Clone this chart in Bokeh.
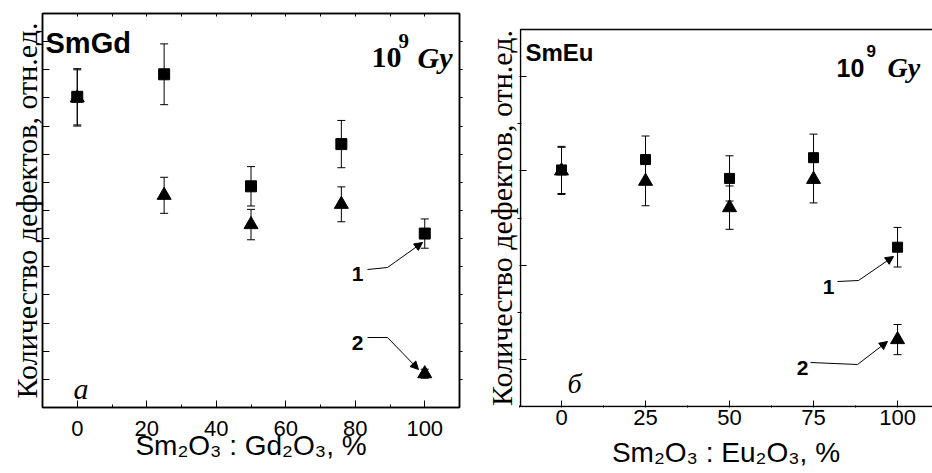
import numpy as np
from bokeh.plotting import figure
from bokeh.models import (Range1d, LinearAxis, FixedTicker, Whisker, ColumnDataSource,
                          Label, Arrow, NormalHead, TeeHead, BoxAnnotation)
from bokeh.layouts import row
from bokeh.embed import file_html
from bokeh.resources import INLINE

# ---------------- data ----------------
gd_x = [0, 25, 50, 76, 100]
gd_sq = [5.02, 5.42, 3.43, 4.18, 2.59]
gd_sq_err = [0.50, 0.54, 0.35, 0.42, 0.26]
gd_tri = [5.00, 3.27, 2.75, 3.11, 0.10]
gd_tri_err = [0.50, 0.32, 0.27, 0.31, 0.08]

eu_x = [0, 25, 50, 75, 100]
eu_sq = [2.01, 2.12, 1.92, 2.14, 1.19]
eu_sq_err = [0.25, 0.25, 0.24, 0.25, 0.21]
eu_tri = [2.00, 1.89, 1.61, 1.91, 0.21]
eu_tri_err = [0.25, 0.26, 0.23, 0.25, 0.16]

gd_xticks = [0, 20, 40, 60, 80, 100]
eu_xticks = [0, 25, 50, 75, 100]
ylabel = "Количество дефектов, отн.ед."
gd_xlabel = "Sm₂O₃ : Gd₂O₃, %"
eu_xlabel = "Sm₂O₃ : Eu₂O₃, %"

SANS = "Liberation Sans"
SERIF = "Liberation Serif"

H = 473
FT, FB = 13, 407     # frame top / bottom (window px), shared by both panels

# pixel -> data helpers (window coordinates)
def lx(px): return -10 + (px - 42) * 120 / 417
def ly(py): return 6.5 - (py - 13) * 7 / 394
def rx(px): return -12.5 + (px - 519) * 122.9 / 413
def ry(py): return 3.5 - (py - 29) * 4 / 377


def lab(p, x, y, text, font=SANS, size=20, style="normal", align="left"):
    p.add_layout(Label(x=x, y=y, text=text, text_font=font, text_font_size=f"{size}px",
                       text_font_style=style, text_align=align, text_baseline="alphabetic",
                       text_color="black"))


def errbars(p, xs, ys, es):
    src = ColumnDataSource(dict(x=xs, lo=[a - b for a, b in zip(ys, es)],
                                hi=[a + b for a, b in zip(ys, es)]))
    p.add_layout(Whisker(source=src, base="x", lower="lo", upper="hi", dimension="height",
                         line_color="black", line_width=1,
                         lower_head=TeeHead(size=8, line_color="black", line_width=1),
                         upper_head=TeeHead(size=8, line_color="black", line_width=1)))


def noaxislabels(ax, ticks):
    ax.major_label_text_font_size = "0px"
    ax.major_label_overrides = {t: "" for t in ticks}
    ax.major_label_standoff = 0


def yaxis_style(ax, text):
    ax.axis_label = text
    ax.axis_label_text_font = SERIF
    ax.axis_label_text_font_size = "30px"
    ax.axis_label_text_font_style = "normal"
    ax.axis_label_text_color = "black"
    ax.axis_label_standoff = 0


def xaxis_style(ax, label, tick_standoff, label_standoff):
    ax.major_label_text_font = SANS
    ax.major_label_text_font_size = "22px"
    ax.major_label_text_color = "black"
    ax.major_label_standoff = tick_standoff
    ax.axis_label = label
    ax.axis_label_text_font = SANS
    ax.axis_label_text_font_size = "28px"
    ax.axis_label_text_font_style = "normal"
    ax.axis_label_text_color = "black"
    ax.axis_label_standoff = label_standoff


# ---------------- left panel ----------------
p1 = figure(width=470, height=H, x_range=Range1d(-10, 110), y_range=Range1d(-0.5, 6.5),
            output_backend="svg", toolbar_location=None, title_location=None,
            min_border_left=42, min_border_right=11, min_border_top=FT,
            min_border_bottom=H - FB)
p1.grid.visible = False
p1.outline_line_color = "black"
p1.outline_line_width = 1.5
p1.background_fill_color = "white"
p1.border_fill_color = "white"

xa = p1.xaxis[0]
xa.ticker = FixedTicker(ticks=gd_xticks, minor_ticks=[-10, 10, 30, 50, 70, 90, 110])
xa.major_tick_in = 7; xa.major_tick_out = 0
xa.minor_tick_in = 3; xa.minor_tick_out = 0
xaxis_style(xa, gd_xlabel, 13, -9)
xa.axis_line_width = 1.5

yt = [i * 0.5 for i in range(13)]
ya = p1.yaxis[0]
ya.ticker = FixedTicker(ticks=yt, minor_ticks=[])
ya.major_tick_in = 7; ya.major_tick_out = 0
noaxislabels(ya, yt)
yaxis_style(ya, ylabel)
ya.axis_line_width = 1.5

top1 = LinearAxis(ticker=FixedTicker(ticks=list(range(-10, 111, 10)), minor_ticks=[]),
                  major_tick_in=3, major_tick_out=0, axis_line_width=1.5)
noaxislabels(top1, list(range(-10, 111, 10)))
p1.add_layout(top1, "above")
right1 = LinearAxis(ticker=FixedTicker(ticks=yt, minor_ticks=[]),
                    major_tick_in=0, major_tick_out=3, axis_line_width=1.5)
noaxislabels(right1, yt)
p1.add_layout(right1, "right")

errbars(p1, gd_x, gd_sq, gd_sq_err)
errbars(p1, gd_x, gd_tri, gd_tri_err)
p1.scatter(gd_x, gd_sq, marker="square", size=11, color="black")
p1.scatter(gd_x, gd_tri, marker="triangle", size=14, color="black")

lab(p1, lx(45), ly(42), "SmGd", SANS, 29, "bold")
lab(p1, lx(371), ly(57), "10", SERIF, 30, "bold")
lab(p1, lx(398), ly(40), "9", SERIF, 21, "bold")
lab(p1, lx(417), ly(57), "Gy", SERIF, 30, "bold italic")
lab(p1, lx(73), ly(388), "а", SERIF, 30, "italic")
lab(p1, lx(357), ly(273), "1", SANS, 21, "bold", "center")
lab(p1, lx(357), ly(342), "2", SANS, 21, "bold", "center")

p1.line([lx(367), lx(387)], [ly(269), ly(267)], line_color="black", line_width=1)
p1.add_layout(Arrow(x_start=lx(387), y_start=ly(267), x_end=lx(422), y_end=ly(242),
                    line_color="black", line_width=1,
                    end=NormalHead(size=8, fill_color="black", line_color="black")))
p1.line([lx(367), lx(387)], [ly(337), ly(337)], line_color="black", line_width=1)
p1.add_layout(Arrow(x_start=lx(387), y_start=ly(337), x_end=lx(418), y_end=ly(369),
                    line_color="black", line_width=1,
                    end=NormalHead(size=8, fill_color="black", line_color="black")))

# ---------------- right panel ----------------
p2 = figure(width=462, height=H, x_range=Range1d(-12.5, 110.4),
            y_range=Range1d(ry(FB), ry(FT)),
            output_backend="svg", toolbar_location=None, title_location=None,
            min_border_left=49, min_border_right=0, min_border_top=FT,
            min_border_bottom=H - FB)
p2.grid.visible = False
p2.outline_line_color = None
p2.background_fill_color = "white"
p2.border_fill_color = "white"
# visible box of the right panel (top at 29 px, open on the right edge)
p2.add_layout(BoxAnnotation(left=rx(520), right=1000, bottom=-0.5, top=3.5,
                            fill_color=None, line_color="black", line_alpha=1.0,
                            line_width=1.5))

xb = p2.xaxis[0]
xb.ticker = FixedTicker(ticks=eu_xticks, minor_ticks=[-12.5, 12.5, 37.5, 62.5, 87.5])
xb.major_tick_in = 7; xb.major_tick_out = 0
xb.minor_tick_in = 2; xb.minor_tick_out = 0
xaxis_style(xb, eu_xlabel, 2, 9)
xb.axis_line_color = None

yb = p2.yaxis[0]
yb.ticker = FixedTicker(ticks=[0, 1, 2, 3], minor_ticks=[0.5, 1.5, 2.5])
yb.major_tick_in = 7; yb.major_tick_out = 0
yb.minor_tick_in = 2; yb.minor_tick_out = 2
noaxislabels(yb, [0, 1, 2, 3])
yaxis_style(yb, ylabel + "\u00a0\u00a0")
yb.axis_line_color = None

errbars(p2, eu_x, eu_sq, eu_sq_err)
errbars(p2, eu_x, eu_tri, eu_tri_err)
p2.scatter(eu_x, eu_sq, marker="square", size=10, color="black")
p2.scatter(eu_x, eu_tri, marker="triangle", size=14, color="black")

lab(p2, rx(525), ry(52), "SmEu", SANS, 24, "bold")
lab(p2, rx(836), ry(67), "10", SANS, 25, "bold")
lab(p2, rx(866), ry(50), "9", SANS, 17, "bold")
lab(p2, rx(887), ry(67), "Gy", SERIF, 28, "bold italic")
lab(p2, rx(567), ry(383), "б", SERIF, 28, "italic")
lab(p2, rx(828), ry(286), "1", SANS, 21, "bold", "center")
lab(p2, rx(802), ry(367), "2", SANS, 21, "bold", "center")

p2.line([rx(837), rx(858)], [ry(281), ry(280)], line_color="black", line_width=1)
p2.add_layout(Arrow(x_start=rx(858), y_start=ry(280), x_end=rx(893), y_end=ry(256),
                    line_color="black", line_width=1,
                    end=NormalHead(size=8, fill_color="black", line_color="black")))
p2.line([rx(810), rx(857)], [ry(362), ry(364)], line_color="black", line_width=1)
p2.add_layout(Arrow(x_start=rx(857), y_start=ry(364), x_end=rx(887), y_end=ry(341),
                    line_color="black", line_width=1,
                    end=NormalHead(size=8, fill_color="black", line_color="black")))

layout = row(p1, p2, spacing=0)
open("out.html", "w").write(file_html(layout, INLINE))
